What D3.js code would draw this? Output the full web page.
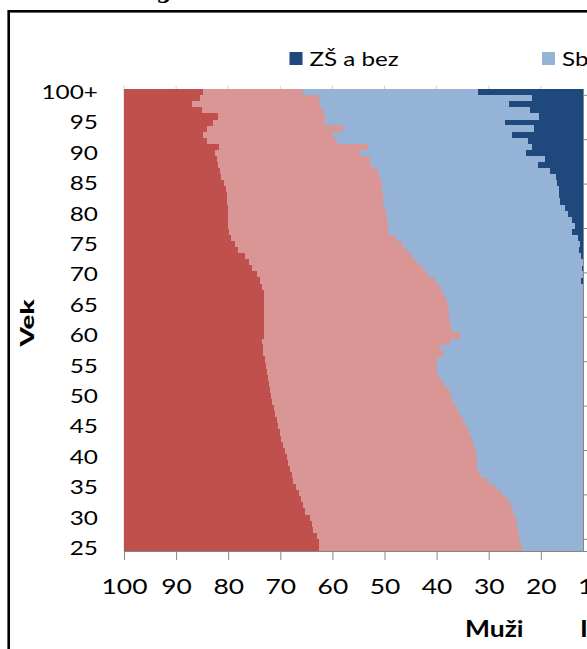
<!DOCTYPE html>
<html><head><meta charset="utf-8">
<script src="https://cdn.jsdelivr.net/npm/d3@7"></script>
<style>html,body{margin:0;padding:0;background:#fff;overflow:hidden}</style>
</head><body>
<svg id="chart" width="587" height="649"></svg>
<script>
// ---- data (Muži, % by education, ages 25 .. 100+) ----
const ages = ["25","26","27","28","29","30","31","32","33","34","35","36","37","38","39","40","41","42","43","44","45","46","47","48","49","50","51","52","53","54","55","56","57","58","59","60","61","62","63","64","65","66","67","68","69","70","71","72","73","74","75","76","77","78","79","80","81","82","83","84","85","86","87","88","89","90","91","92","93","94","95","96","97","98","99","100+"];
const zsABez = [7.0,6.8,6.6,6.5,6.4,6.3,6.2,6.1,6.0,6.0,6.0,6.1,6.2,6.3,6.4,6.5,6.6,6.7,6.8,6.9,7.0,7.1,7.2,7.4,7.5,7.7,7.8,8.0,8.2,8.4,8.6,8.8,9.0,9.2,9.4,9.6,9.8,10.0,10.3,10.5,10.8,11.0,11.2,11.4,12.2,11.5,12.1,11.5,12.2,12.6,12.5,12.8,14.1,13.4,14.1,14.7,15.4,16.4,16.5,16.6,16.8,17.1,18.2,20.5,19.2,22.8,21.7,22.4,25.6,21.4,26.9,20.3,22.1,26.1,21.7,32.0];
const ssBezMaturity = [16.7,17.1,17.5,17.8,18.1,18.5,19.1,19.7,20.5,21.5,22.8,24.0,25.2,25.9,25.9,25.8,25.9,26.1,26.5,26.8,27.4,27.9,28.3,28.7,29.3,29.6,29.9,30.6,31.1,31.6,31.4,31.2,29.8,30.1,28.1,25.9,27.2,27.5,27.4,27.2,27.1,27.2,27.5,27.9,28.1,30.1,30.5,32.3,32.6,33.1,34.2,34.9,35.2,35.9,35.5,34.9,34.6,33.8,33.8,33.9,33.7,33.8,33.0,32.0,33.6,31.9,31.5,36.8,34.3,36.6,34.6,41.2,39.7,36.2,40.8,33.6];
const ssSMaturitou = [38.8,38.7,38.9,39.4,39.5,39.5,40.0,39.8,39.5,38.9,38.2,37.4,36.4,35.9,36.2,36.5,36.6,36.6,36.5,36.4,36.0,35.7,35.5,35.2,34.7,34.4,34.3,33.6,33.1,32.6,32.8,33.0,34.5,34.1,36.1,37.6,36.1,35.6,35.4,35.4,35.2,34.9,34.4,34.3,33.6,32.9,32.9,32.3,32.0,32.4,32.0,31.8,30.5,30.7,30.4,30.5,30.1,30.0,30.0,29.9,30.4,30.4,30.4,29.5,29.4,27.8,28.5,24.8,25.0,26.0,21.4,20.4,23.3,24.7,23.0,19.2];
const vs = [37.5,37.4,37.0,36.3,36.0,35.7,34.7,34.4,34.0,33.6,33.0,32.5,32.2,31.9,31.5,31.2,30.9,30.6,30.2,29.9,29.6,29.3,29.0,28.7,28.5,28.3,28.0,27.8,27.6,27.4,27.2,27.0,26.7,26.6,26.4,26.9,26.9,26.9,26.9,26.9,26.9,26.9,26.9,26.4,26.1,25.5,24.5,23.9,23.2,21.9,21.3,20.5,20.2,20.0,20.0,19.9,19.9,19.8,19.7,19.6,19.1,18.7,18.4,18.0,17.8,17.5,18.3,16.0,15.1,16.0,17.1,18.1,14.9,13.0,14.5,15.2];
const seriesKeys = ["zs","ssb","ssm","vs"];
const legendLabels = ["ZŠ a bez","Sbez maturity"];
const seriesColors = ["#1F497D","#95B3D7","#D99694","#C0504D"];
const xTickValues = [100,90,80,70,60,50,40,30,20,10,0];
const yTickLabels = ["25","30","35","40","45","50","55","60","65","70","75","80","85","90","95","100+"];
const rightTickIdx = d3.range(0, 11);

(function(){
const rows = ages.map((a,i)=>({age:a, zs:zsABez[i], ssb:ssBezMaturity[i], ssm:ssSMaturitou[i], vs:vs[i]}));

const svg = d3.select("#chart");
const FONT = "Lato, 'Open Sans', sans-serif";
const pL = 124, pR = 583, pT = 89, pB = 551;

const x = d3.scaleLinear().domain([0,100]).range([645, pL]);
const y = d3.scaleBand().domain(ages.slice().reverse()).range([pT, pB]).padding(0);

// frame
svg.append("rect").attr("x",8.7).attr("y",11.3).attr("width",700).attr("height",800)
  .attr("fill","none").attr("stroke","#000").attr("stroke-width",2.6);

// partial title
svg.append("text").attr("x",164).attr("y",-2).attr("text-anchor","middle")
  .attr("font-family","'DejaVu Serif', serif").attr("font-weight","bold").attr("font-size",22).text("g");

// gridlines
svg.append("g").selectAll("line").data(xTickValues.filter(v=>v>0)).join("line")
  .attr("x1",d=>x(d)).attr("x2",d=>x(d)).attr("y1",pT-3).attr("y2",pB)
  .attr("stroke","#d0d0d0").attr("stroke-width",1);

svg.append("clipPath").attr("id","plotclip").append("rect")
  .attr("x",pL).attr("y",pT).attr("width",pR-pL).attr("height",pB-pT);

const stack = d3.stack().keys(seriesKeys)(rows);
svg.append("g").attr("clip-path","url(#plotclip)").selectAll("g").data(stack).join("g")
  .attr("fill",(d,i)=>seriesColors[i])
  .selectAll("rect").data(d=>d).join("rect")
  .attr("x",d=>x(d[1])).attr("width",d=>x(d[0])-x(d[1]))
  .attr("y",d=>y(d.data.age)).attr("height",y.bandwidth()+0.3)
  .attr("shape-rendering","crispEdges");

// bottom axis
const xa = svg.append("g").attr("transform",`translate(0,${pB})`)
  .call(d3.axisBottom(x).tickValues(xTickValues).tickSize(9).tickSizeOuter(0).tickPadding(18));
xa.select(".domain").attr("stroke","#868686");
xa.selectAll(".tick line").attr("stroke","#868686");
xa.selectAll(".tick text").attr("font-family",FONT).attr("font-size",22).attr("fill","#000")
  .attr("transform","scale(1.2,1)");

// y labels
svg.append("g").selectAll("text").data(yTickLabels).join("text")
  .attr("transform",d=>`translate(98,${y(d)+y.bandwidth()/2+7}) scale(1.25,1)`)
  .attr("text-anchor","end").attr("font-family",FONT).attr("font-size",19.5).text(d=>d);

// right axis line (adjacent chart)
svg.append("line").attr("x1",pR+0.5).attr("x2",pR+0.5).attr("y1",pT).attr("y2",pB)
  .attr("stroke","#868686");
const yr = d3.scaleLinear().domain([0,10]).range([539.3,95.3]);
svg.append("g").selectAll("line").data(rightTickIdx).join("line")
  .attr("x1",pR).attr("x2",pR+5).attr("y1",d=>yr(d)).attr("y2",d=>yr(d)).attr("stroke","#868686");

// axis titles
svg.append("text").attr("transform","translate(33.5,323) rotate(-90) scale(1.5,1)").attr("text-anchor","middle")
  .attr("font-family",FONT).attr("font-weight","900").attr("font-size",18.5).text("Vek");
svg.append("text").attr("transform","translate(465,636.5) scale(1.15,1)")
  .attr("font-family",FONT).attr("font-weight","bold").attr("font-size",23).text("Muži");
svg.append("text").attr("transform","translate(580,636.5) scale(1.15,1)")
  .attr("font-family",FONT).attr("font-weight","bold").attr("font-size",23).text("I");

// legend
const legX = [289.5, 542];
const lg = svg.append("g").selectAll("g").data(legendLabels).join("g")
  .attr("transform",(d,i)=>`translate(${legX[i]},52)`);
lg.append("rect").attr("width",13).attr("height",13).attr("fill",(d,i)=>seriesColors[i]);
lg.append("text").attr("transform","translate(20,14) scale(1.3,1)")
  .attr("font-family",FONT).attr("font-size",18.6).text(d=>d);
})();
</script>
</body></html>
